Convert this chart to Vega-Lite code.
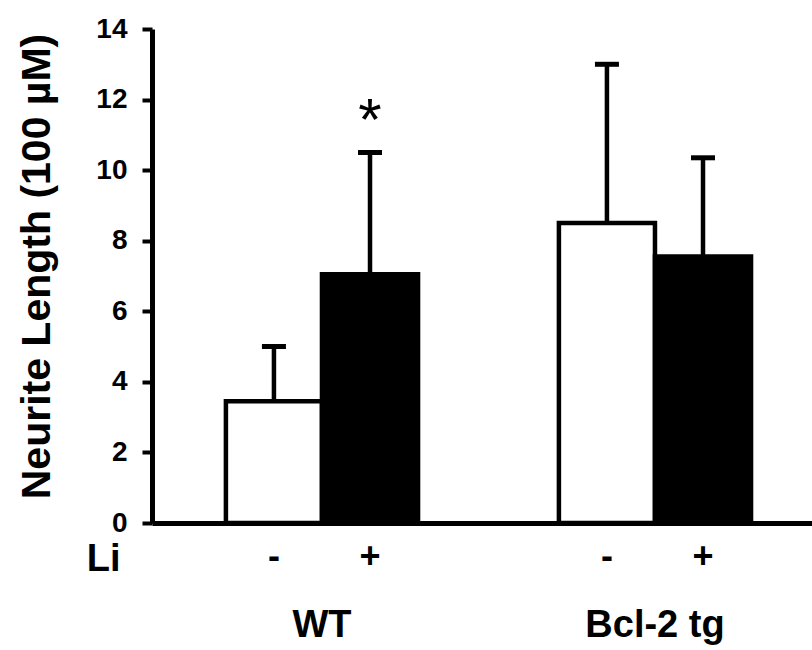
{
  "$schema": "https://vega.github.io/schema/vega-lite/v6.json",
  "autosize": "none",
  "width": 660,
  "height": 494,
  "padding": {"left": 152, "top": 29, "right": 0, "bottom": 127},
  "background": "white",
  "config": {
    "view": {"stroke": null},
    "font": "Liberation Sans",
    "axis": {"labelColor": "black", "titleColor": "black", "domainColor": "black", "tickColor": "black", "grid": false}
  },
  "data": {
    "values": [
      {"genotype": "WT", "Li": "-", "mean": 3.45, "hi": 5.0, "sig": ""},
      {"genotype": "WT", "Li": "+", "mean": 7.05, "hi": 10.5, "sig": "*"},
      {"genotype": "Bcl-2 tg", "Li": "-", "mean": 8.5, "hi": 13.0, "sig": ""},
      {"genotype": "Bcl-2 tg", "Li": "+", "mean": 7.55, "hi": 10.35, "sig": ""}
    ]
  },
  "encoding": {
    "x": {
      "field": "genotype",
      "type": "nominal",
      "sort": ["WT", "Bcl-2 tg"],
      "scale": {"paddingInner": 0.423, "paddingOuter": 0.2025, "align": 0.548},
      "axis": {
        "title": "Li",
        "titleFontSize": 38,
        "titleFontWeight": "bold",
        "titleAnchor": "start",
        "titleAlign": "right",
        "titleBaseline": "alphabetic",
        "titleX": -32,
        "titleY": 47,
        "labelAngle": 0,
        "labelFontSize": 38,
        "labelFontWeight": "bold",
        "labelBaseline": "top",
        "labelPadding": 83,
        "ticks": false,
        "tickSize": 0,
        "domainWidth": 5
      }
    },
    "xOffset": {
      "field": "Li",
      "type": "nominal",
      "sort": ["-", "+"],
      "scale": {"paddingInner": 0, "paddingOuter": 0}
    }
  },
  "layer": [
    {
      "mark": {"type": "bar", "stroke": "black", "strokeWidth": 4.5},
      "encoding": {
        "y": {
          "field": "mean",
          "type": "quantitative",
          "scale": {"domain": [0, 14]},
          "axis": {
            "title": "Neurite Length (100 µM)",
            "titleFontSize": 41,
            "titleFontWeight": "bold",
            "titlePadding": 37,
            "titleY": 237,
            "values": [0, 2, 4, 6, 8, 10, 12, 14],
            "labelFontSize": 28,
            "labelFontWeight": "bold",
            "labelPadding": 15,
            "tickSize": 10,
            "tickWidth": 4,
            "domainWidth": 5
          }
        },
        "fill": {
          "field": "Li",
          "type": "nominal",
          "scale": {"domain": ["-", "+"], "range": ["white", "black"]},
          "legend": null
        }
      }
    },
    {
      "mark": {"type": "rule", "color": "black", "strokeWidth": 4.5},
      "encoding": {
        "y": {"field": "mean", "type": "quantitative"},
        "y2": {"field": "hi"}
      }
    },
    {
      "mark": {"type": "tick", "color": "black", "opacity": 1, "size": 24, "thickness": 5},
      "encoding": {
        "y": {"field": "hi", "type": "quantitative"}
      }
    },
    {
      "mark": {"type": "text", "fontSize": 60, "baseline": "alphabetic", "dy": -13, "color": "black"},
      "encoding": {
        "y": {"field": "hi", "type": "quantitative"},
        "text": {"field": "sig"}
      }
    },
    {
      "mark": {"type": "text", "fontSize": 36, "fontWeight": "bold", "baseline": "middle", "dy": 34, "color": "black"},
      "encoding": {
        "y": {"datum": 0, "type": "quantitative"},
        "text": {"field": "Li"}
      }
    }
  ]
}
